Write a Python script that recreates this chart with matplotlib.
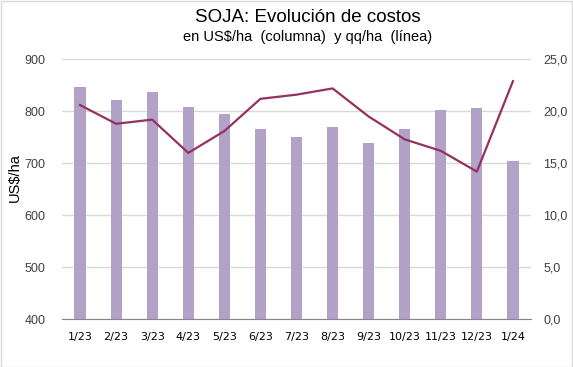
import matplotlib.pyplot as plt
from matplotlib.patches import Rectangle

months = ['1/23', '2/23', '3/23', '4/23', '5/23', '6/23', '7/23',
          '8/23', '9/23', '10/23', '11/23', '12/23', '1/24']
cost_usd_ha = [847, 822, 837, 808, 795, 766, 751, 770, 739, 766, 802, 806, 704]
yield_qq_ha = [20.6, 18.8, 19.2, 16.0, 18.1, 21.2, 21.6, 22.2, 19.5, 17.3, 16.2, 14.2, 22.9]

left_ticks = [400, 500, 600, 700, 800, 900]
right_ticks = [0, 5, 10, 15, 20, 25]

bar_color = '#B3A2C7'
line_color = '#953160'
grid_color = '#D9D9D9'


def main():
    plt.rcParams['font.family'] = ['Liberation Sans', 'DejaVu Sans']
    fig = plt.figure(figsize=(5.73, 3.67), dpi=100)
    ax = fig.add_axes([62 / 573, 1 - 319.3 / 367, 469 / 573, 260 / 367])

    x = list(range(len(months)))

    # Columns: cost in US$/ha
    ax.bar(x, cost_usd_ha, width=0.31, color=bar_color, zorder=2)
    ax.set_ylim(400, 900)
    ax.set_yticks(left_ticks)
    ax.set_xlim(-0.5, len(months) - 0.5)
    ax.set_xticks(x)
    ax.set_xticklabels(months, family='DejaVu Sans', fontsize=8)
    ax.tick_params(axis='x', length=0, pad=9)
    ax.tick_params(axis='y', length=0, labelsize=9, colors='#404040', pad=12)
    ax.yaxis.grid(True, color=grid_color, linewidth=1, zorder=0)
    ax.set_axisbelow(True)
    for side in ['left', 'right', 'top']:
        ax.spines[side].set_visible(False)
    ax.spines['bottom'].set_color('#868686')
    ax.spines['bottom'].set_zorder(4)
    ax.set_ylabel('US$/ha', fontsize=10.5)
    ax.yaxis.set_label_coords(-0.086, 0.547)

    # Line: yield in qq/ha on the secondary axis
    ax2 = ax.twinx()
    ax2.plot(x, yield_qq_ha, color=line_color, linewidth=1.6, zorder=3)
    ax2.set_ylim(0, 25)
    ax2.set_yticks(right_ticks)
    ax2.set_yticklabels([f"{v:.1f}".replace('.', ',') for v in right_ticks])
    ax2.tick_params(axis='y', length=0, labelsize=9, colors='#404040', pad=9)
    for side in ['left', 'right', 'top', 'bottom']:
        ax2.spines[side].set_visible(False)

    fig.text(308 / 573, 1 - 18 / 367, 'SOJA: Evolución de costos',
             ha='center', va='center', fontsize=13.5)
    fig.text(308 / 573, 1 - 37 / 367, 'en US$/ha  (columna)  y qq/ha  (línea)',
             ha='center', va='center', fontsize=10.5)

    fig.patches.append(Rectangle((0.5 / 573, 0.5 / 367), 1 - 1.5 / 573, 1 - 1.5 / 367,
                                 transform=fig.transFigure, fill=False,
                                 edgecolor=grid_color, linewidth=1))

    fig.savefig('out.png', dpi=100)


if __name__ == "__main__":
    main()
